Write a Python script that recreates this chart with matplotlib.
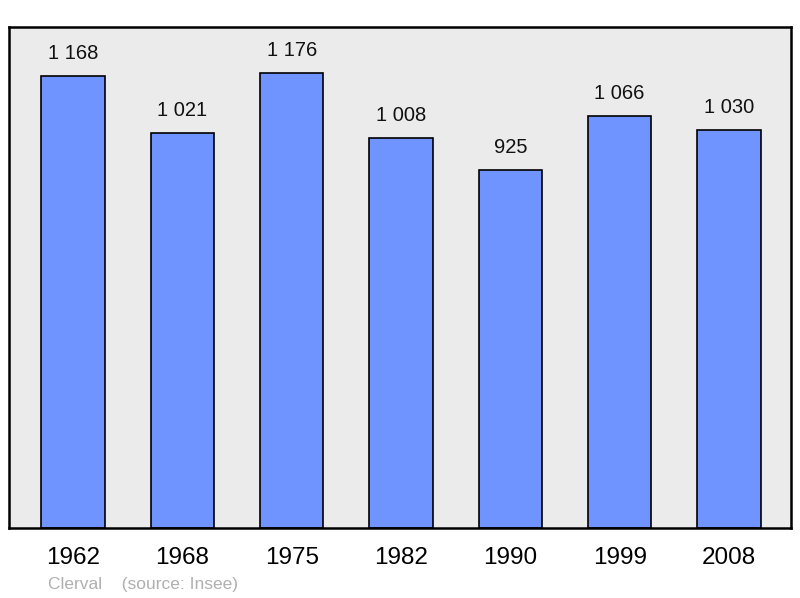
import matplotlib
matplotlib.use("Agg")
import matplotlib.pyplot as plt

years = ["1962", "1968", "1975", "1982", "1990", "1999", "2008"]
population = [1168, 1021, 1176, 1008, 925, 1066, 1030]
value_labels = ["1 168", "1 021", "1 176", "1 008", "925", "1 066", "1 030"]

plt.rcParams['font.family'] = ['Liberation Sans', 'DejaVu Sans']

fig = plt.figure(figsize=(8, 5.98), dpi=100)
ax = fig.add_axes([9/800, 1-528/598, 782/800, 501/598])
ax.set_facecolor('#ebebeb')
x = list(range(len(years)))
ax.bar(x, population, width=0.58, color='#7094ff', edgecolor='black', linewidth=1.2, zorder=2)
for xi, v, lab in zip(x, population, value_labels):
    ax.text(xi, v + 33, lab, ha='center', va='bottom', fontsize=14.5, color='#111111')
ax.set_xlim(-0.585, 6.567)
ax.set_ylim(0, 1295)
ax.set_yticks([])
ax.set_xticks(x)
ax.set_xticklabels(years, fontsize=17.5)
ax.tick_params(axis='x', length=0, pad=14)
for s in ax.spines.values():
    s.set_linewidth(1.8)
    s.set_color('black')
fig.text(48/800, 1-584/598, "Clerval    (source: Insee)", fontsize=12.5, color='#b0b0b0', va='center', ha='left')
fig.savefig("out.png", dpi=100)
